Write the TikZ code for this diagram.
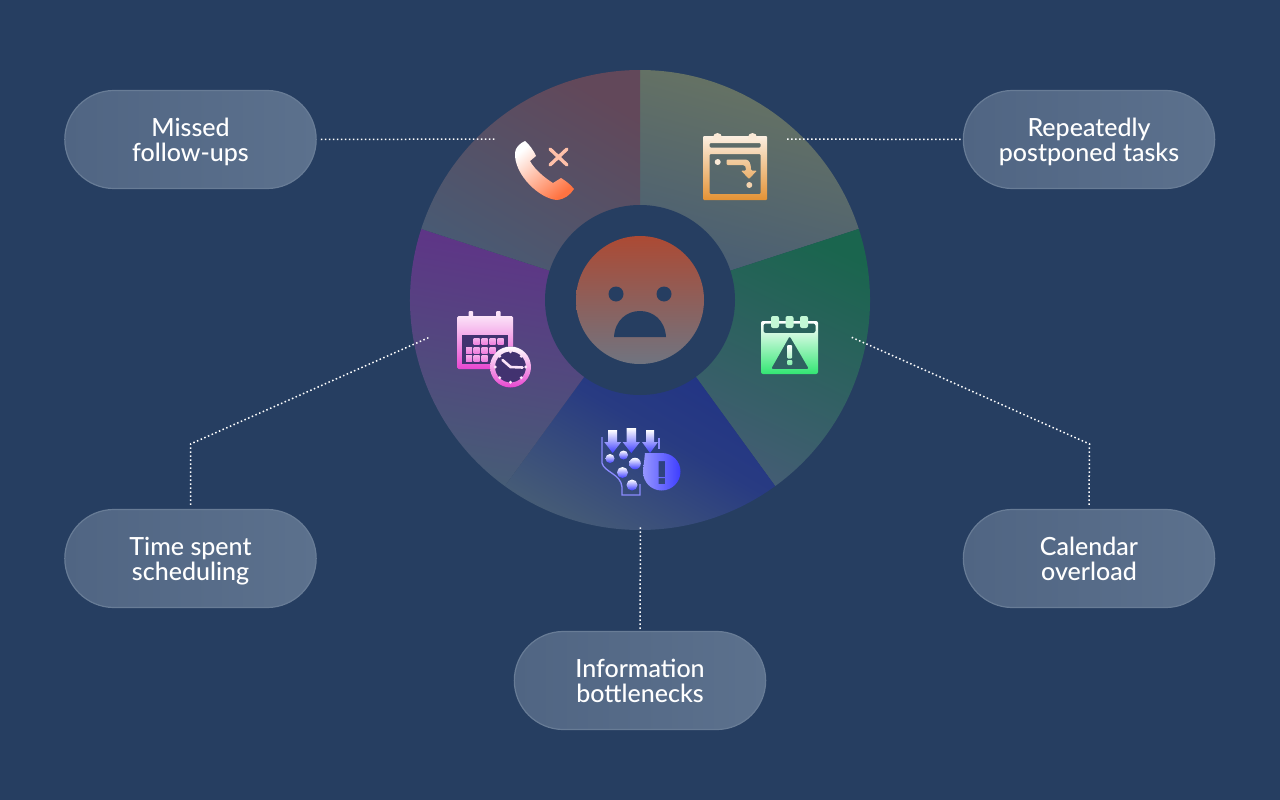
\documentclass[tikz,border=0pt]{standalone}
\usepackage{fontspec}
\setmainfont{Lato Medium}
\usetikzlibrary{shapes}
\usetikzlibrary{arrows}
\definecolor{navy}{RGB}{38,62,97}
\definecolor{pillA}{RGB}{80,101,131}
\definecolor{pillB}{RGB}{92,113,141}
\definecolor{pillEdge}{RGB}{104,124,150}
\definecolor{greyEnd}{RGB}{70,92,118}
\definecolor{wedgeRose}{RGB}{98,72,90}
\definecolor{wedgeOlive}{RGB}{104,116,98}
\definecolor{wedgeGreen}{RGB}{26,101,78}
\definecolor{wedgeBlue}{RGB}{30,48,134}
\definecolor{wedgePurple}{RGB}{96,50,136}
\definecolor{faceTop}{RGB}{172,74,52}
\definecolor{faceEnd}{RGB}{112,116,128}
\definecolor{phoneEnd}{RGB}{255,115,65}
\definecolor{amberEnd}{RGB}{228,146,52}
\definecolor{mintEnd}{RGB}{50,230,115}
\definecolor{pinkEnd}{RGB}{232,70,208}
\definecolor{blueEnd}{RGB}{62,62,255}
\definecolor{clockFill}{RGB}{66,50,112}
\newcommand{\topline}{\rule{0pt}{24pt}}
\newcommand{\lastline}{\rule[-6pt]{0pt}{6pt}}
\begin{document}
\begin{tikzpicture}[x=1pt,y=-1pt]
	\tikzstyle{pill}=[rounded rectangle,draw=pillEdge,line width=1.2pt,left color=pillA,right color=pillB,minimum width=258pt,minimum height=98pt,align=center,text=white,font=\fontsize{25}{25}\selectfont]
	\tikzstyle{link}=[white,line width=1.5pt,dash pattern=on 1.5pt off 2.5pt]
	
	\fill[navy] (0,0) rectangle (1280,800);
	\useasboundingbox (0,0) rectangle (1280,800);
	
	% wheel
	\foreach \from/\to/\tint/\turn/\mix in {-90/-18/wedgeOlive/-15/50,-18/54/wedgeGreen/-25/50,54/126/wedgeBlue/-30/75,126/198/wedgePurple/-10/50,198/270/wedgeRose/-30/50}
		\shade[top color=\tint,bottom color=greyEnd,middle color=\tint!\mix!greyEnd,shading angle=\turn] (640,300) -- ++(\from:230) arc[start angle=\from,end angle=\to,radius=230] -- cycle;
	\fill[navy] (640,300) circle[radius=95];
	
	% face
	\shade[top color=faceTop,bottom color=faceEnd] (640,300) circle[radius=64];
	\fill[navy] (616,294) circle[radius=7.5] (664,294) circle[radius=7.5];
	\fill[navy] (614,337) .. controls (615,320) and (627,311) .. (640,311) .. controls (653,311) and (665,320) .. (666,337) -- cycle;
	
	% phone
	\shade[top color=white,bottom color=phoneEnd,shading angle=40] (525,141) .. controls (529,144) and (534,151) .. (536,156) -- (530,161) .. controls (535,170) and (545,178) .. (553,183) -- (561,178) .. controls (566,181) and (571,185) .. (574,189) .. controls (570,195) and (565,199) .. (557,200) .. controls (540,199) and (514,175) .. (515,153) .. controls (515,148) and (520,143) .. (525,141) -- cycle;
	\draw[line width=3.4pt,line cap=round,color=phoneEnd!45!white] (550,149) -- (567,165) (567,149) -- (550,165);
	
	% postponed calendar
	\shade[even odd rule,top color=white!85!amberEnd,bottom color=amberEnd,rounded corners=1pt] (703,136) rectangle (767,200) (709.5,143) rectangle (760.5,147.5) (709.5,154) rectangle (760.5,194) (726.5,159.5) -- (745,159.5) .. controls (749,160) and (751,163) .. (751,170.5) -- (757,170.5) -- (749,179) -- (741,170.5) -- (746,170.5) .. controls (746,167) and (745,165) .. (742,165) -- (726.5,165) -- cycle;
	\fill[white!80!amberEnd] (717.5,137.5) circle[radius=4.5] (752.5,137.5) circle[radius=4.5] (717.7,162) circle[radius=3];
	\fill[white!60!amberEnd] (749.3,185) circle[radius=3];
	
	% overload calendar
	\shade[even odd rule,top color=white,bottom color=mintEnd,rounded corners=2pt] (761,321) rectangle (818,374) (763.5,323.5) rectangle (815.5,333) (789.7,336) -- (809,369) -- (771,369) -- cycle;
	\fill[white!70!mintEnd,rounded corners=2pt] (771,316) rectangle (779,328) (785.5,316) rectangle (793.5,328) (800,316) rectangle (808,328);
	\shade[top color=white,bottom color=mintEnd!60!white,rounded corners=1pt] (787.2,345) rectangle (792.2,358.5) (787,360) rectangle (792.4,365);
	
	% funnel
	\draw[white!40!blueEnd,line width=1.3pt] (602,437) -- (602,463) .. controls (604,472) and (621,474) .. (622,487) -- (622,495) -- (640,495) -- (640,484);
	\draw[white!40!blueEnd,line width=1.3pt] (659,438) -- (659,449);
	\foreach \x/\w/\t in {612.7/4.5/430,631.3/4.7/428,650/4/430}
		\shade[top color=white,bottom color=blueEnd] (\x-\w,\t) -- (\x+\w,\t) -- (\x+\w,442) -- (\x+\w+4,442) -- (\x,453) -- (\x-\w-4,442) -- (\x-\w,442) -- cycle;
	\foreach \x/\y/\r in {610/458.5/4.5,623.5/455/4.5,635/463.5/5.8,622.5/472.5/5.5,632/485/5.5}
		\shade[top color=white,bottom color=blueEnd] (\x,\y) circle[radius=\r];
	\shade[even odd rule,left color=white!45!blueEnd,right color=blueEnd] (645,453) .. controls (650,453) and (656,453) .. (661.7,453) .. controls (672,453) and (680.5,461) .. (680.5,471.5) .. controls (680.5,482) and (672,490.5) .. (661.7,490.5) .. controls (651,490.5) and (643,482) .. (643,471.5) -- cycle (658.5,461) rectangle (665,477) (658.5,478) rectangle (665,484);
	
	% scheduling calendar
	\shade[top color=white!85!pinkEnd,bottom color=pinkEnd,rounded corners=1.5pt] (457,316) rectangle (513,369);
	\fill[clockFill] (462,335) rectangle (508,364);
	\fill[white!85!pinkEnd,rounded corners=1pt] (468.5,311) rectangle (473,318) (496,311) rectangle (500.5,318);
	\foreach \x/\y in {476.7/341.7,484.7/341.7,492.7/341.7,500.7/341.7,469/350,476.7/350,484.7/350,492.7/350,469/358.3,476.7/358.3,484.7/358.3}
		\shade[top color=white!55!pinkEnd,bottom color=white!30!pinkEnd] (\x-3,\y-3) rectangle (\x+3,\y+3);
	\fill[clockFill] (510.5,367) circle[radius=20.5];
	\shade[even odd rule,top color=white,bottom color=pinkEnd] (510.5,367) circle[radius=20.5] (510.5,367) circle[radius=15.5];
	\foreach \a in {0,45,...,315}
		\fill[white!85!pinkEnd] (510.5,367) ++(\a:15.2) circle[radius=1.6];
	\draw[white!85!pinkEnd,line width=2.6pt,line cap=round] (502.5,360) -- (510.5,367) -- (522.5,367.5);
	
	% labels
	\node[pill] (missed) at (190.5,139.5) {\topline Missed\\follow-ups\lastline};
	\node[pill] (postponed) at (1089,139.5) {\topline Repeatedly\\postponed tasks\lastline};
	\node[pill] (scheduling) at (190.5,558.5) {\topline Time spent\\scheduling\lastline};
	\node[pill] (overload) at (1089,558.5) {\topline Calendar\\overload\lastline};
	\node[pill] (bottleneck) at (640,680.5) {\topline Information\\bottlenecks\lastline};
	
	\coordinate (missedEnd) at (495,139);
	\coordinate (postponedEnd) at (787,139);
	\coordinate (schedulingEnd) at (430,337);
	\coordinate (schedulingBend) at (190.5,444);
	\coordinate (overloadEnd) at (851,337);
	\coordinate (overloadBend) at (1089.5,444);
	\coordinate (bottleneckEnd) at (640.5,525);
	
	\draw[link] ([xshift=4pt]missed.east) -- (missedEnd);
	\draw[link] (postponedEnd) -- ([xshift=-2pt]postponed.west);
	\draw[link] ([yshift=4pt]scheduling.north) -- (schedulingBend) -- (schedulingEnd);
	\draw[link] ([yshift=4pt]overload.north) -- (overloadBend) -- (overloadEnd);
	\draw[link] ([yshift=2pt]bottleneck.north) -- (bottleneckEnd);
\end{tikzpicture}
\end{document}
